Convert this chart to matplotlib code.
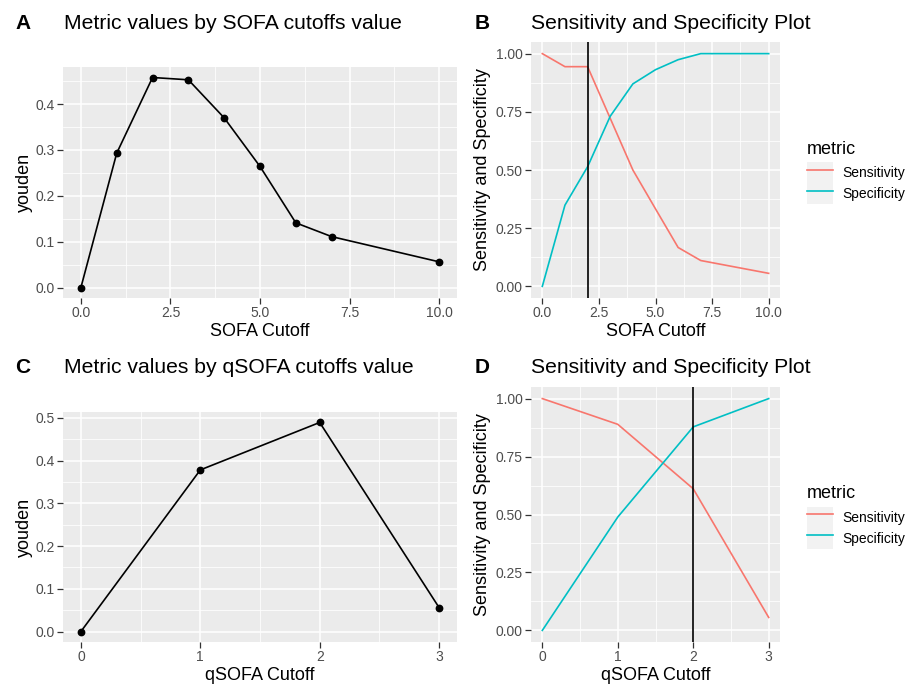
import matplotlib
matplotlib.use("Agg")
import matplotlib.pyplot as plt
from matplotlib.patches import Rectangle
from matplotlib.lines import Line2D
from matplotlib.legend_handler import HandlerTuple
import numpy as np

plt.rcParams['font.family'] = ['Liberation Sans', 'DejaVu Sans']

# ---- data ----
sofa_cutoff = [0, 1, 2, 3, 4, 5, 6, 7, 10]
sofa_youden = [0.0, 0.293, 0.458, 0.453, 0.370, 0.264, 0.141, 0.111, 0.056]
sofa_sens = [1.0, 0.944, 0.944, 0.722, 0.500, 0.333, 0.167, 0.111, 0.056]
sofa_spec = [0.0, 0.349, 0.514, 0.731, 0.870, 0.931, 0.974, 1.0, 1.0]
sofa_best = 2

qsofa_cutoff = [0, 1, 2, 3]
qsofa_youden = [0.0, 0.378, 0.489, 0.056]
qsofa_sens = [1.0, 0.889, 0.611, 0.056]
qsofa_spec = [0.0, 0.489, 0.878, 1.0]
qsofa_best = 2

metric_names = ['Sensitivity', 'Specificity']
metric_colors = ['#F8766D', '#00BFC4']

panel_letters = ['A', 'B', 'C', 'D']
titles = ['Metric values by SOFA cutoffs value', 'Sensitivity and Specificity Plot',
          'Metric values by qSOFA cutoffs value', 'Sensitivity and Specificity Plot']

W, H = 910, 686
fig = plt.figure(figsize=(W / 100, H / 100), dpi=100)


def rect(l, t, r, b):
    return [l / W, 1 - b / H, (r - l) / W, (b - t) / H]


def style(ax):
    ax.set_facecolor('#EBEBEB')
    for s in ax.spines.values():
        s.set_visible(False)
    ax.grid(True, which='major', color='white', linewidth=1.1)
    ax.grid(True, which='minor', color='white', linewidth=0.55)
    ax.set_axisbelow(True)
    ax.tick_params(which='major', length=4, width=0.9, color='#333333',
                   labelcolor='#4D4D4D', labelsize=10, pad=2)
    ax.tick_params(which='minor', length=0)


def minor_between(ticks):
    t = np.array(ticks, dtype=float)
    return list((t[:-1] + t[1:]) / 2)


def expand(lo, hi, f=0.05):
    d = (hi - lo) * f
    return lo - d, hi + d


label_kw = dict(fontsize=13, color='black')

# ---- Panel A ----
axA = fig.add_axes(rect(63, 67, 457, 298))
style(axA)
axA.plot(sofa_cutoff, sofa_youden, color='black', linewidth=1.2, marker='o', markersize=4.6)
axA.set_xlim(*expand(min(sofa_cutoff), max(sofa_cutoff)))
axA.set_ylim(*expand(min(sofa_youden), max(sofa_youden)))
xt = [0, 2.5, 5, 7.5, 10]
yt = [0, 0.1, 0.2, 0.3, 0.4]
axA.set_xticks(xt)
axA.set_xticklabels(['0.0', '2.5', '5.0', '7.5', '10.0'])
axA.set_xticks(minor_between(xt), minor=True)
axA.set_yticks(yt)
axA.set_yticklabels(['0.0', '0.1', '0.2', '0.3', '0.4'])
axA.set_yticks(minor_between(yt) + [0.45], minor=True)
axA.set_xlabel('SOFA Cutoff', labelpad=2, **label_kw)
axA.set_ylabel('youden', labelpad=2, **label_kw)

# ---- Panel C ----
axC = fig.add_axes(rect(63, 412, 457, 642))
style(axC)
axC.plot(qsofa_cutoff, qsofa_youden, color='black', linewidth=1.2, marker='o', markersize=4.6)
axC.set_xlim(*expand(min(qsofa_cutoff), max(qsofa_cutoff)))
axC.set_ylim(*expand(min(qsofa_youden), max(qsofa_youden)))
xt = [0, 1, 2, 3]
yt = [0, 0.1, 0.2, 0.3, 0.4, 0.5]
axC.set_xticks(xt)
axC.set_xticklabels(['0', '1', '2', '3'])
axC.set_xticks(minor_between(xt), minor=True)
axC.set_yticks(yt)
axC.set_yticklabels(['0.0', '0.1', '0.2', '0.3', '0.4', '0.5'])
axC.set_yticks(minor_between(yt), minor=True)
axC.set_xlabel('qSOFA Cutoff', labelpad=2, **label_kw)
axC.set_ylabel('youden', labelpad=2, **label_kw)


def sens_spec(ax, x, sens, spec, best, xt, xtl, xlabel):
    style(ax)
    for vals, name, col in zip([sens, spec], metric_names, metric_colors):
        ax.plot(x, vals, color=col, linewidth=1.2, label=name)
    ax.axvline(best, color='black', linewidth=1.2)
    ax.set_xlim(*expand(min(x), max(x)))
    ax.set_ylim(*expand(0, 1))
    yt = [0, 0.25, 0.5, 0.75, 1.0]
    ax.set_xticks(xt)
    ax.set_xticklabels(xtl)
    ax.set_xticks(minor_between(xt), minor=True)
    ax.set_yticks(yt)
    ax.set_yticklabels(['0.00', '0.25', '0.50', '0.75', '1.00'])
    ax.set_yticks(minor_between(yt), minor=True)
    ax.set_xlabel(xlabel, labelpad=2, **label_kw)
    ax.set_ylabel('Sensitivity and Specificity', labelpad=3, **label_kw)
    handles = []
    for col in metric_colors:
        handles.append((Rectangle((0, 0), 1, 1, facecolor='#F2F2F2', edgecolor='none'),
                        Line2D([0], [0], color=col, linewidth=1.2)))
    leg = ax.legend(handles, metric_names, title='metric', loc='center left',
                    bbox_to_anchor=(1.108, 0.49), frameon=False, fontsize=10,
                    title_fontsize=13, handlelength=1.87, handleheight=1.95,
                    labelspacing=0.0, handletextpad=0.65, borderaxespad=0,
                    borderpad=0,
                    handler_map={tuple: HandlerTuple(ndivide=1, pad=0)})
    leg._legend_box.align = 'left'
    leg._legend_box.sep = 3
    for t in leg.get_texts():
        t.set_color('black')
    return leg


axB = fig.add_axes(rect(531, 42, 780, 298))
sens_spec(axB, sofa_cutoff, sofa_sens, sofa_spec, sofa_best,
          [0, 2.5, 5, 7.5, 10], ['0.0', '2.5', '5.0', '7.5', '10.0'], 'SOFA Cutoff')

axD = fig.add_axes(rect(531, 387, 780, 642))
sens_spec(axD, qsofa_cutoff, qsofa_sens, qsofa_spec, qsofa_best,
          [0, 1, 2, 3], ['0', '1', '2', '3'], 'qSOFA Cutoff')

# ---- titles and panel letters ----
title_pos = [(64, 29), (531, 29), (64, 373), (531, 373)]
letter_pos = [(15, 29), (475, 29), (15, 373), (475, 373)]
for (tx, ty), (lx, ly), t, L in zip(title_pos, letter_pos, titles, panel_letters):
    fig.text(tx / W, 1 - ty / H, t, fontsize=15.2, ha='left', va='baseline')
    fig.text(lx / W, 1 - ly / H, L, fontsize=15, fontweight='bold', ha='left', va='baseline')

fig.savefig('out.png', dpi=100)
